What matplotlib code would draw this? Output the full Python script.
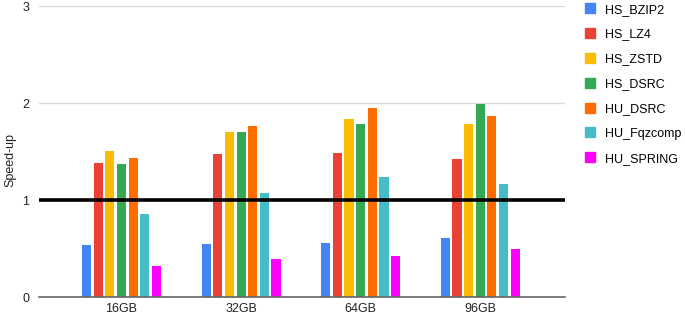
import matplotlib.pyplot as plt
import numpy as np
from matplotlib.patches import Patch

plt.rcParams['font.family'] = ['Liberation Sans', 'DejaVu Sans']

sizes = ['16GB', '32GB', '64GB', '96GB']
series = ['HS_BZIP2', 'HS_LZ4', 'HS_ZSTD', 'HS_DSRC', 'HU_DSRC', 'HU_Fqzcomp', 'HU_SPRING']
colors = ['#4285F4', '#EA4335', '#FBBC04', '#34A853', '#FF6D01', '#46BDC6', '#FF00FF']

hs_bzip2 = [0.54, 0.55, 0.56, 0.61]
hs_lz4 = [1.38, 1.48, 1.49, 1.42]
hs_zstd = [1.51, 1.70, 1.84, 1.79]
hs_dsrc = [1.37, 1.70, 1.79, 1.99]
hu_dsrc = [1.43, 1.76, 1.95, 1.87]
hu_fqzcomp = [0.86, 1.07, 1.24, 1.17]
hu_spring = [0.32, 0.39, 0.43, 0.50]
values = [hs_bzip2, hs_lz4, hs_zstd, hs_dsrc, hu_dsrc, hu_fqzcomp, hu_spring]

fig = plt.figure(figsize=(6.85, 3.16), dpi=100)
ax = fig.add_axes([0.057, 0.059, 0.768, 0.922])

x = np.arange(len(sizes))
pitch = 0.0975
width = 0.077
for i, (vals, c) in enumerate(zip(values, colors)):
    ax.bar(x + (i - 3) * pitch, vals, width=width, color=c, zorder=2)

ax.axhline(1, color='black', lw=2.6, zorder=3)

ax.set_ylim(0, 3)
ax.set_xlim(-0.69, 3.71)
ax.set_yticks([0, 1, 2, 3])
ax.set_xticks(x)
ax.set_xticklabels(sizes)
ax.grid(axis='y', color='#dadada', lw=1, zorder=0)
for s in ['top', 'right', 'left']:
    ax.spines[s].set_visible(False)
ax.spines['bottom'].set_color('#666666')
ax.spines['bottom'].set_linewidth(1.2)
ax.spines['bottom'].set_zorder(4)
ax.tick_params(length=0, labelsize=9, colors='#222222', pad=4)
ax.tick_params(axis='y', pad=7)
ax.set_ylabel('Speed-up', fontsize=9, color='#222222')
ax.yaxis.set_label_coords(-0.043, 0.47)

handles = [Patch(facecolor=c, edgecolor=c) for c in colors]
fig.legend(handles, series, loc='upper left', bbox_to_anchor=(0.846, 1.005),
           frameon=False, fontsize=9, handlelength=0.85, handleheight=0.85,
           handletextpad=0.75, labelspacing=1.0, borderaxespad=0)

fig.savefig('out.png', dpi=100)
